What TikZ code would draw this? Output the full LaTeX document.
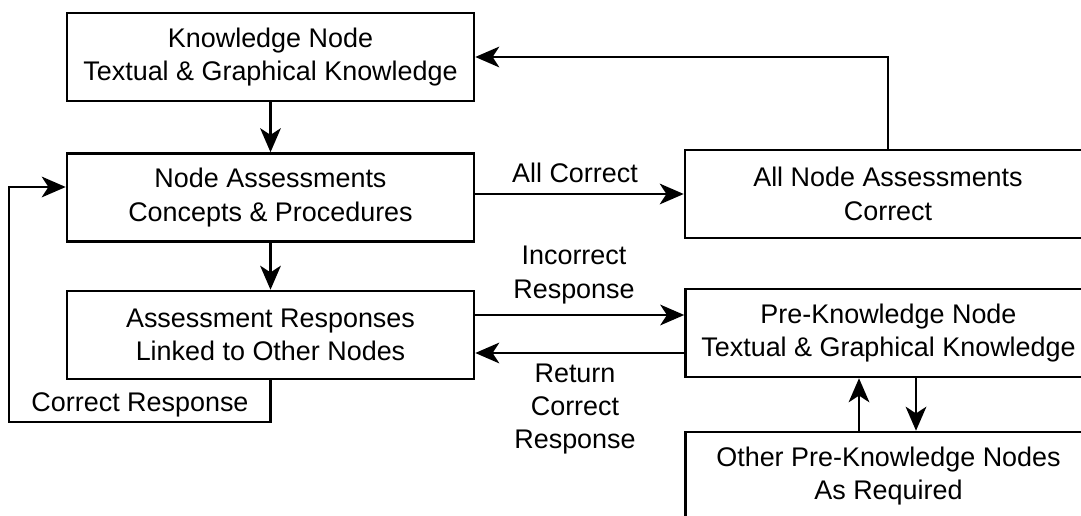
\documentclass[tikz,border=0pt]{standalone}
\usepackage{fontspec}
\setmainfont{Liberation Sans}
\usetikzlibrary{arrows.meta}

\tikzset{
  every node/.style={font=\fontsize{20.2}{25}\selectfont, align=center},
  box/.style={draw, line width=1.9pt, fill=white, inner sep=0pt,
              minimum height=66pt},
  leftbox/.style={box, minimum width=305.25pt},
  rightbox/.style={box, minimum width=304.5pt},
  lbl/.style={inner sep=0pt},
  arr/.style={line width=1.9pt, -{Stealth[length=18pt, width=15.5pt, inset=5pt]}},
}

\begin{document}
\begin{tikzpicture}[x=0.75pt, y=-0.75pt]
  \useasboundingbox (0,0) rectangle (1081,516);
  \clip (0,0) rectangle (1081,516);

  % left column
  \node[leftbox] (kn) at (270.5,57)    {Knowledge Node\\Textual \& Graphical Knowledge};
  \node[leftbox] (na) at (270.5,197.5) {Node Assessments\\Concepts \& Procedures};
  \node[leftbox] (ar) at (270.5,335)   {Assessment Responses\\Linked to Other Nodes};

  % right column (runs past the right edge)
  \node[rightbox] (ac) at (888,194)   {All Node Assessments\\Correct};
  \node[rightbox] (pk) at (888.5,333) {Pre-Knowledge Node\\Textual \& Graphical Knowledge};
  \node[rightbox] (op) at (888.5,476) {Other Pre-Knowledge Nodes\\As Required};

  % helper coordinates for routing
  \coordinate (yinc) at (0,315);
  \coordinate (yret) at (0,353);
  \coordinate (yloop) at (0,187);
  \coordinate (lp) at (9,422);
  \coordinate (xup) at (859,0);
  \coordinate (xdn) at (916,0);

  % main flow
  \draw[arr] (kn.south) -- (na.north);
  \draw[arr] (na.south) -- (ar.north);
  \draw[arr] (na.east |- ac.west) -- (ac.west);
  \draw[arr] (ac.north) |- (kn.east);
  \draw[arr] (ar.east |- yinc) -- (pk.west |- yinc);
  \draw[arr] (pk.west |- yret) -- (ar.east |- yret);
  \draw[arr] (ar.south) |- (lp) |- (na.west |- yloop);
  \draw[arr] (op.north -| xup) -- (pk.south -| xup);
  \draw[arr] (pk.south -| xdn) -- (op.north -| xdn);

  % connector labels
  \node[lbl] (lall) at (575,173) {All Correct};
  \node[lbl] (linc) at (574,275) {Incorrect\\Response};
  \node[lbl] (lret) at (575,409) {Return\\Correct\\Response};
  \node[lbl] (lcor) at (140,405) {Correct Response};
\end{tikzpicture}
\end{document}
